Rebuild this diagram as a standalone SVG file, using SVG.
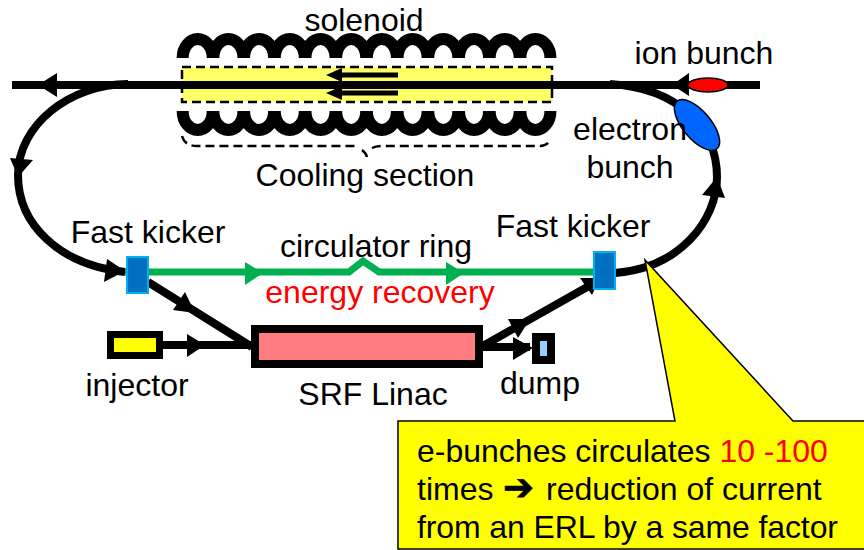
<svg xmlns="http://www.w3.org/2000/svg" width="864" height="550" viewBox="0 0 864 550">
<defs>
<style>
text{font-family:"Liberation Sans",Arial,sans-serif;font-size:32px;fill:#000}
.w{fill:none;stroke:#000;stroke-width:8}
.g{fill:none;stroke:#00B050;stroke-width:7}
.dash{stroke:#000;stroke-width:2.500;stroke-dasharray:9 5}
.kick{fill:#0070C0;stroke:#00B0F0;stroke-width:2}
.h{fill:#000}
.coil{fill:none;stroke:#000;stroke-width:12}
</style>
<path id="ct" d="M-15 58V57.500A15 18.500 0 0 1 15 57.500V58"/>
<path id="cb" d="M-15 111V111.500A15 18.500 0 0 0 15 111.500V111"/>
</defs>
<rect width="864" height="550" fill="#fff"/>
<g id="solenoid">
<g class="coil">
<use href="#ct" x="197.700"/><use href="#ct" x="228.400"/><use href="#ct" x="259.100"/><use href="#ct" x="289.800"/><use href="#ct" x="320.500"/><use href="#ct" x="351.200"/><use href="#ct" x="381.900"/><use href="#ct" x="412.600"/><use href="#ct" x="443.300"/><use href="#ct" x="474"/><use href="#ct" x="504.700"/><use href="#ct" x="535.400"/>
<use href="#cb" x="197.700"/><use href="#cb" x="228.400"/><use href="#cb" x="259.100"/><use href="#cb" x="289.800"/><use href="#cb" x="320.500"/><use href="#cb" x="351.200"/><use href="#cb" x="381.900"/><use href="#cb" x="412.600"/><use href="#cb" x="443.300"/><use href="#cb" x="474"/><use href="#cb" x="504.700"/><use href="#cb" x="535.400"/>
</g>
<text x="364" y="31" text-anchor="middle">solenoid</text>
</g>
<g id="cooling-section">
<rect x="182" y="67" width="370" height="35" fill="#FFFF66" class="dash"/>
<path class="dash" fill="none" d="M182 136C184 143 189 146 197 146H355M362 150Q366 153 367 157M372 148Q376 146 382 146H540C545 146 549 143 550 140"/>
<text x="365" y="186" text-anchor="middle">Cooling section</text>
</g>
<g id="connectors">
<path class="w" d="M12 85H760"/>
<path class="w" d="M128 84C70 84 18 125 18 175C18 225 60 265 125 272"/>
<path class="w" d="M615 273C680 268 717 220 717 177C717 130 680 88 610 84"/>
<path class="g" d="M125 272H349L363 261L379 272H596"/>
<path class="w" d="M148 282L252 347"/>
<path class="w" d="M163 345H252"/>
<path class="w" d="M481 347L596 282"/>
<path class="w" d="M483 347H530"/>
<path stroke="#000" stroke-width="5" d="M398 75H335M398 93H335"/>
<polygon class="h" points="38,85 57,73 57,97"/>
<polygon class="h" points="326,75 342,68 342,82"/>
<polygon class="h" points="326,93 342,86 342,100"/>
<polygon class="h" points="672,85 689,73 689,96"/>
<polygon class="h" points="18,177 10,158 33,160"/>
<polygon class="h" points="125,271 107,259 104,282"/>
<polygon class="h" points="717,177 702,195 725,198"/>
<polygon class="h" points="195,313 185,292 173,310"/>
<polygon class="h" points="205,345 187,334 187,357"/>
<polygon class="h" points="530,319 508,319 518,338"/>
<polygon class="h" points="600,278 580,278 592,295"/>
<polygon class="h" points="533,348 513,337 513,360"/>
<polygon fill="#00B050" points="263,273 245,262 245,285"/>
<polygon fill="#00B050" points="464,273 446,262 446,285"/>
</g>
<g id="ion-bunch">
<ellipse cx="708" cy="85" rx="20" ry="7" fill="#FF0000" stroke="#000" stroke-width="1.500"/>
<text x="704" y="64" text-anchor="middle">ion bunch</text>
</g>
<g id="electron-bunch">
<ellipse cx="697" cy="125" rx="31" ry="14" transform="rotate(50 697 125)" fill="#0066FF" stroke="#000" stroke-width="1.500"/>
<text x="630" y="140" text-anchor="middle">electron</text>
<text x="630" y="178" text-anchor="middle">bunch</text>
</g>
<g id="fast-kicker-left">
<rect class="kick" x="127" y="257" width="21" height="36"/>
<text x="148" y="243" text-anchor="middle">Fast kicker</text>
</g>
<g id="fast-kicker-right">
<rect class="kick" x="594" y="252" width="21" height="37"/>
<text x="573" y="237" text-anchor="middle">Fast kicker</text>
</g>
<g id="circulator-ring">
<text x="376" y="257" text-anchor="middle">circulator ring</text>
<text x="380" y="303" text-anchor="middle" style="fill:#FF0000">energy recovery</text>
</g>
<g id="injector">
<rect x="110.500" y="334.500" width="49" height="21" fill="#FFFF00" stroke="#000" stroke-width="7"/>
<text x="137" y="396" text-anchor="middle">injector</text>
</g>
<g id="srf-linac">
<rect x="255" y="329" width="224" height="35" fill="#FF7C80" stroke="#000" stroke-width="8"/>
<text x="373" y="405" text-anchor="middle">SRF Linac</text>
</g>
<g id="dump">
<rect x="536" y="337" width="15" height="23" fill="#99CCFF" stroke="#000" stroke-width="8"/>
<text x="540" y="394" text-anchor="middle">dump</text>
</g>
<g id="callout">
<path d="M398 549V421H675L645 260L793 421H866V549Z" fill="#FFFF00" stroke="#000" stroke-width="1.500"/>
<text x="417" y="462">e-bunches circulates <tspan style="fill:#FF0000">10 -100</tspan></text>
<text x="417" y="500">times <tspan x="503" style="font-family:'DejaVu Sans',sans-serif;font-size:37px;stroke:#000;stroke-width:.8">➔</tspan><tspan x="546">reduction of current</tspan></text>
<text x="417" y="538" textLength="421">from an ERL by a same factor</text>
</g>
</svg>
